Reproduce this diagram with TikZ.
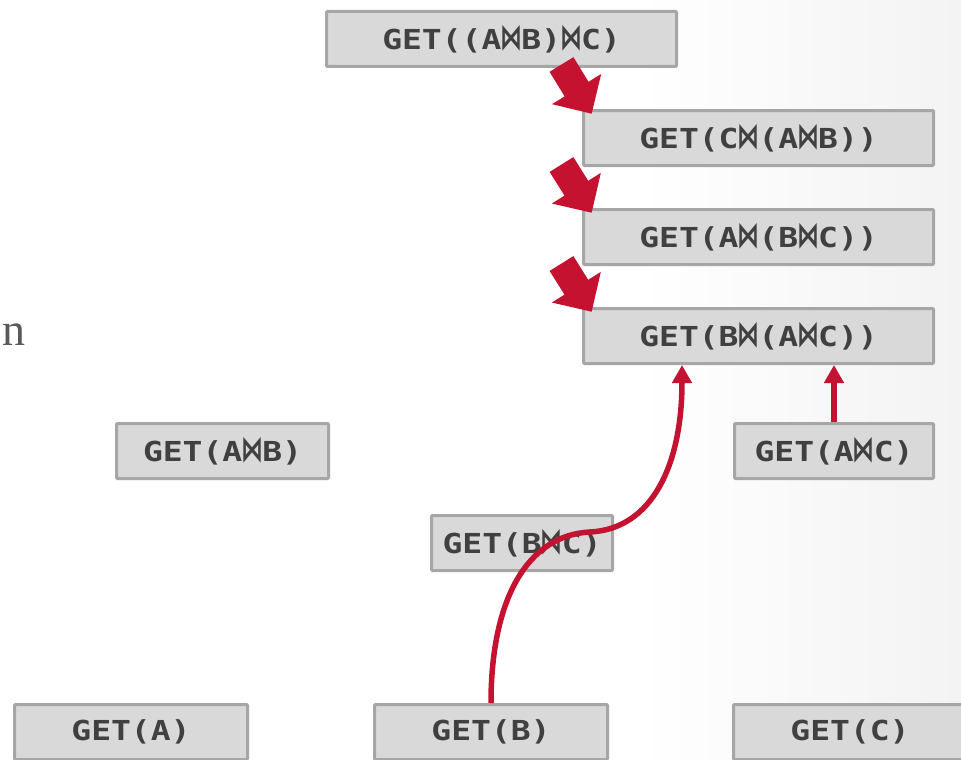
\documentclass[tikz,border=0pt]{standalone}
\usepackage{fontspec}
\usepackage{graphicx}
\usetikzlibrary{arrows.meta,calc}
\newfontfamily\codefont[FakeStretch=1.2]{DejaVu Sans Mono}
\newfontfamily\joinfont{DejaVu Sans}
\newfontfamily\serifn{Liberation Serif}
% join symbol set on the monospace grid
\newcommand\jn{\makebox[19.9pt]{\scalebox{0.8}[1.3]{\joinfont\bfseries ⋈}}}
\definecolor{cmured}{RGB}{196,18,48}
\definecolor{boxfill}{RGB}{217,217,217}
\definecolor{boxline}{RGB}{166,166,166}
\definecolor{codegray}{RGB}{64,64,64}
\definecolor{edgegray}{RGB}{243,243,243}
\definecolor{textgray}{RGB}{89,89,89}

\begin{document}
\begin{tikzpicture}[x=1pt,y=-1pt,
  qbox/.style={draw=boxline, line width=3pt, fill=boxfill, rounded corners=1pt,
    minimum height=55pt, inner sep=0pt, text=codegray,
    font=\codefont\bfseries\fontsize{27.5}{27.5}\selectfont},
  fatarrow/.style={cmured, line width=28pt,
    -{Triangle[length=29pt,width=56pt]}},
  thinarrow/.style={cmured, line width=5.5pt,
    -{Triangle[length=18pt,width=19pt]}}]

  % page frame and soft shading towards the right edge
  \useasboundingbox (0,0) rectangle (961,760);
  \clip (0,0) rectangle (961,760);
  \fill[white] (0,0) rectangle (961,760);
  \shade[left color=white, right color=edgegray] (640,0) rectangle (961,760);

  % partial word at the left margin
  \node[anchor=base east, inner sep=0pt, text=textgray,
        font=\serifn\fontsize{46}{46}\selectfont] (word) at (26,345) {n};

  % plan alternatives for the three-way join
  \node[qbox, minimum width=350pt] (top) at (501.5,39) {GET((A\jn B)\jn C)};
  \node[qbox, minimum width=350pt] (c1) at (758.5,138) {GET(C\jn(A\jn B))};
  \node[qbox, minimum width=350pt] (c2) at (758.5,237) {GET(A\jn(B\jn C))};
  \node[qbox, minimum width=350pt] (c3) at (758.5,336) {GET(B\jn(A\jn C))};

  % two-way joins
  \node[qbox, minimum width=212pt] (ab) at (222.5,451) {GET(A\jn B)};
  \node[qbox, minimum width=199pt] (ac) at (834,451) {GET(A\jn C)};
  \node[qbox, minimum width=181pt] (bc) at (522,543) {GET(B\jn C)};

  % base tables
  \node[qbox, minimum width=233pt] (a) at (131,732) {GET(A)};
  \node[qbox, minimum width=233pt] (b) at (491,732) {GET(B)};
  \node[qbox, minimum width=233pt] (c) at (850,732) {GET(C)};

  % transformation steps between the plans
  \coordinate (s1) at ($(top.south)+(60,-3.5)$);
  \coordinate (t1) at ($(c1.north west)+(9.7,4.8)$);
  \coordinate (s2) at ($(c1.north west)+(-20.5,55.5)$);
  \coordinate (t2) at ($(c2.north west)+(9.7,4.8)$);
  \coordinate (s3) at ($(c2.north west)+(-20.5,55.5)$);
  \coordinate (t3) at ($(c3.north west)+(9.7,4.8)$);
  \draw[fatarrow] (s1) -- (t1);
  \draw[fatarrow] (s2) -- (t2);
  \draw[fatarrow] (s3) -- (t3);

  % lookups feeding the chosen plan
  \coordinate (c3in) at ($(c3.south west)+(100,0)$);
  \draw[thinarrow] (b.north) .. controls ($(b.north)+(0,-105)$) and (528,535) .. (590,532)
                   .. controls (652,529) and ($(c3in)+(0,100)$) .. (c3in);
  \draw[thinarrow] (ac.north) -- (ac.north |- c3.south);
\end{tikzpicture}
\end{document}
